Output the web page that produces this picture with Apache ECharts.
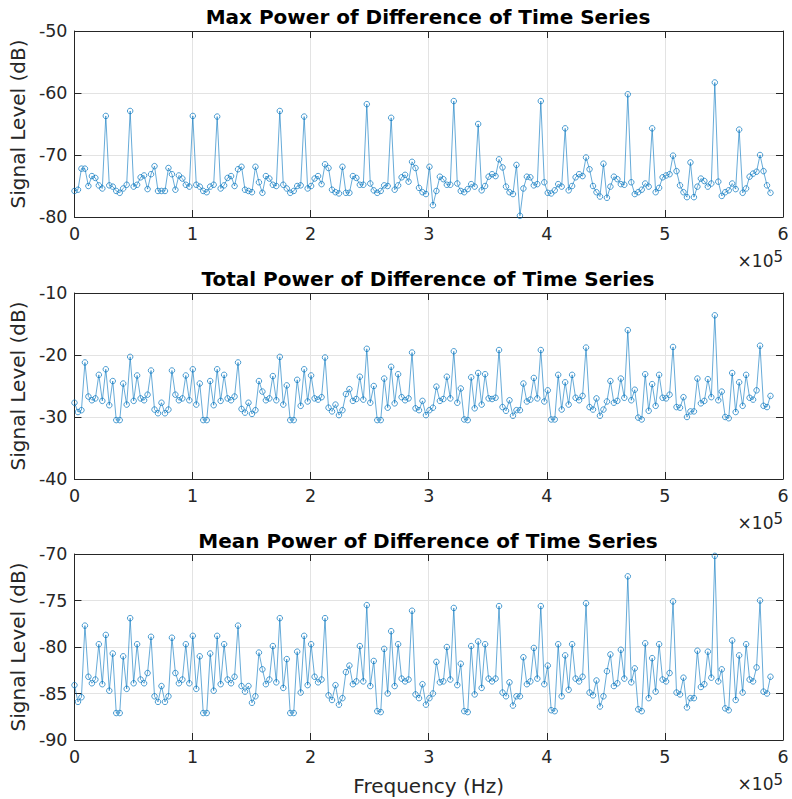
<!DOCTYPE html>
<html>
<head>
<meta charset="utf-8">
<script src="https://cdn.jsdelivr.net/npm/echarts@6/dist/echarts.min.js"></script>
<style>html,body{margin:0;padding:0;background:#fff;}#c{width:792px;height:799px;}</style>
</head>
<body>
<div id="c"></div>
<script>
// Frequency bin spacing (Hz), 201 bins from 0 to ~5.89e5
const freqStep = 2947;

const titles = [
  'Max Power of Difference of Time Series',
  'Total Power of Difference of Time Series',
  'Mean Power of Difference of Time Series'
];
const xTickLabels = ['0', '1', '2', '3', '4', '5', '6'];
const yTicksMax = [-80, -70, -60, -50];
const yTicksTotal = [-40, -30, -20, -10];
const yTicksMean = [-90, -85, -80, -75, -70];

const maxPower = [
-75.8,-75.6,-72.2,-72.2,-75.0,-73.4,-73.7,-74.9,-75.4,-63.7,
-74.9,-75.1,-75.8,-76.1,-75.4,-74.8,-62.9,-75.1,-74.8,-73.6,
-73.3,-75.5,-73.1,-71.8,-75.8,-75.8,-75.8,-72.1,-73.1,-75.6,
-73.3,-73.8,-74.8,-75.1,-63.7,-74.8,-75.1,-75.8,-76.0,-75.1,
-74.8,-63.8,-75.4,-74.9,-73.7,-73.4,-75.0,-72.3,-71.9,-75.6,
-75.8,-76.0,-71.9,-74.4,-76.1,-73.4,-73.8,-74.8,-75.0,-62.9,
-74.8,-75.4,-76.1,-75.8,-75.0,-74.9,-63.8,-75.4,-75.0,-73.8,
-73.4,-74.7,-71.5,-72.1,-75.6,-76.0,-76.2,-71.9,-76.1,-76.1,
-73.4,-73.7,-74.8,-74.8,-61.8,-74.6,-75.7,-76.1,-75.8,-74.9,
-75.0,-64.0,-75.6,-74.9,-73.6,-73.2,-74.3,-71.1,-72.1,-75.3,
-76.0,-76.3,-71.9,-78.1,-75.8,-73.5,-73.9,-74.8,-74.8,-61.3,
-74.6,-75.8,-76.0,-75.5,-74.7,-75.1,-65.0,-75.7,-75.0,-73.5,
-73.1,-73.4,-70.7,-72.0,-75.1,-76.0,-76.3,-71.6,-79.8,-75.4,
-73.5,-73.6,-74.9,-74.7,-61.3,-74.4,-76.1,-76.2,-75.7,-74.7,
-75.1,-65.7,-75.7,-75.0,-73.6,-73.1,-73.4,-70.4,-72.3,-75.0,
-76.0,-76.7,-71.4,-76.9,-75.1,-73.5,-73.9,-74.7,-74.8,-60.2,
-74.4,-76.3,-76.0,-75.6,-74.6,-75.1,-65.7,-76.0,-75.3,-73.6,
-73.3,-73.1,-70.1,-72.6,-74.9,-76.0,-76.8,-71.2,-76.8,-75.1,
-73.8,-74.2,-75.1,-74.6,-58.3,-74.3,-76.6,-76.0,-75.7,-74.6,
-75.5,-65.9,-76.1,-75.4,-73.5,-73.0,-72.7,-70.0,-72.6,-74.9,
-76.1
];

const totalPower = [
-27.7,-29.2,-28.9,-21.2,-26.7,-27.3,-27.0,-23.2,-27.4,-22.3,
-28.1,-24.2,-30.5,-30.5,-24.6,-28.0,-20.3,-27.4,-23.3,-27.0,
-27.3,-26.4,-22.5,-28.8,-29.4,-27.7,-29.4,-28.8,-22.5,-26.4,
-27.3,-27.0,-23.3,-27.3,-22.3,-28.0,-24.6,-30.5,-30.5,-24.2,
-28.1,-22.3,-27.4,-23.2,-27.0,-27.3,-26.7,-21.2,-28.7,-29.3,
-27.7,-29.5,-28.9,-24.2,-25.9,-27.3,-27.0,-23.4,-27.3,-20.3,
-28.0,-24.9,-30.5,-30.5,-24.0,-28.2,-22.3,-27.5,-23.3,-27.0,
-27.2,-26.8,-20.4,-28.5,-29.1,-28.0,-29.7,-28.9,-26.3,-25.5,
-27.4,-27.1,-23.5,-27.2,-19.0,-27.7,-25.0,-30.5,-30.5,-23.8,
-28.5,-21.9,-27.8,-23.1,-26.8,-27.3,-27.0,-19.6,-28.6,-28.9,
-27.4,-29.7,-28.9,-28.5,-25.1,-27.4,-27.1,-23.5,-27.0,-19.4,
-27.7,-25.4,-30.4,-30.5,-23.6,-28.6,-22.9,-28.0,-23.1,-27.0,
-27.1,-26.9,-19.2,-28.4,-29.0,-27.3,-29.8,-28.9,-28.9,-24.6,
-27.5,-27.2,-23.7,-27.0,-19.2,-27.5,-25.7,-30.4,-30.4,-23.2,
-28.8,-24.4,-28.0,-23.2,-26.9,-27.3,-26.6,-18.8,-28.4,-28.8,
-27.0,-29.8,-28.8,-27.5,-24.2,-27.7,-27.4,-23.8,-26.9,-16.0,
-27.3,-25.6,-30.1,-30.4,-23.1,-29.0,-24.7,-28.2,-23.2,-26.9,
-27.0,-26.4,-18.7,-28.4,-28.5,-26.8,-30.0,-29.1,-29.1,-23.8,
-27.8,-27.4,-23.9,-26.8,-13.6,-27.3,-25.9,-30.0,-30.2,-22.9,
-29.2,-24.4,-28.2,-23.2,-26.9,-27.2,-25.7,-18.5,-28.2,-28.4,
-26.6
];

const meanPower = [
-84.1,-85.9,-85.4,-77.7,-83.2,-83.9,-83.5,-79.7,-84.0,-78.7,
-84.7,-80.7,-87.1,-87.1,-81.0,-84.5,-76.9,-83.9,-79.7,-83.5,
-83.9,-82.8,-78.9,-85.3,-85.9,-84.2,-85.9,-85.3,-79.0,-82.8,
-83.9,-83.5,-79.7,-83.9,-78.8,-84.5,-81.0,-87.1,-87.1,-80.7,
-84.7,-78.8,-84.0,-79.7,-83.5,-83.9,-83.2,-77.7,-84.2,-84.8,
-84.2,-86.0,-85.3,-80.6,-82.4,-84.0,-83.5,-79.9,-83.8,-76.9,
-84.4,-81.3,-87.1,-87.1,-80.5,-84.9,-78.8,-84.1,-79.7,-83.2,
-83.8,-83.5,-76.9,-85.2,-85.7,-84.1,-86.2,-85.5,-82.7,-82.0,
-84.0,-83.7,-79.9,-83.7,-75.5,-84.2,-81.5,-86.9,-87.0,-80.2,
-85.0,-78.3,-84.2,-79.7,-83.4,-83.7,-83.5,-76.1,-85.1,-85.5,
-84.0,-86.2,-85.5,-85.0,-81.6,-83.8,-83.7,-80.0,-83.5,-75.8,
-84.1,-81.8,-86.9,-87.0,-79.9,-85.1,-79.4,-84.4,-79.7,-83.4,
-83.7,-83.4,-75.6,-84.9,-85.3,-83.8,-86.3,-85.3,-85.3,-81.1,
-84.0,-83.7,-80.1,-83.4,-75.6,-84.0,-82.0,-86.8,-86.9,-79.7,
-85.3,-80.9,-84.6,-79.7,-83.4,-83.7,-83.2,-75.3,-84.9,-85.2,
-83.6,-86.4,-85.3,-82.6,-80.8,-84.2,-83.9,-80.3,-83.4,-72.4,
-83.8,-82.3,-86.7,-86.9,-79.6,-85.5,-81.2,-84.8,-79.7,-83.5,
-83.7,-82.8,-75.1,-84.9,-85.1,-83.3,-86.5,-85.5,-85.5,-80.4,
-84.3,-84.0,-80.5,-83.3,-70.2,-83.7,-82.4,-86.6,-86.8,-79.3,
-85.7,-80.9,-84.9,-79.7,-83.5,-83.7,-82.2,-75.0,-84.8,-85.0,
-83.2
];

const seriesValues = [maxPower, totalPower, meanPower];
const yTickSets = [yTicksMax, yTicksTotal, yTicksMean];

const AX = '#262626';
const GRID = '#e3e3e3';
const LINE = '#0072BD';
const FONT = 'DejaVu Sans';
const gridPos = [
  { left: 73, top: 31, width: 710, height: 186 },
  { left: 73, top: 293, width: 710, height: 186 },
  { left: 73, top: 554, width: 710, height: 186 }
];
const titleTops = [7, 269, 531];

const xAxes = [], yAxes = [], series = [], titleOpts = [], graphics = [];
for (let g = 0; g < 3; g++) {
  const ticks = yTickSets[g];
  const yMin = ticks[0], yMax = ticks[ticks.length - 1], yInt = ticks[1] - ticks[0];
  xAxes.push({
    type: 'value', gridIndex: g, position: 'bottom', min: 0, max: 600000, interval: 100000,
    axisLine: { show: true, onZero: false, lineStyle: { color: AX, width: 1 } },
    axisTick: { show: true, inside: true, length: 7, lineStyle: { color: AX, width: 1 } },
    axisLabel: { show: true, margin: 8, color: AX, fontSize: 17.5, fontFamily: FONT,
      formatter: v => xTickLabels[Math.round(v / 100000)] },
    splitLine: { show: true, lineStyle: { color: GRID, width: 1 } },
    name: g === 2 ? 'Frequency (Hz)' : '', nameLocation: 'middle', nameGap: 36,
    nameTextStyle: { color: AX, fontSize: 20, fontFamily: FONT }
  });
  xAxes.push({
    type: 'value', gridIndex: g, position: 'top', min: 0, max: 600000, interval: 100000,
    axisLine: { show: true, onZero: false, lineStyle: { color: AX, width: 1 } },
    axisTick: { show: true, inside: true, length: 7, lineStyle: { color: AX, width: 1 } },
    axisLabel: { show: false }, splitLine: { show: false }
  });
  yAxes.push({
    type: 'value', gridIndex: g, position: 'left', min: yMin, max: yMax, interval: yInt,
    axisLine: { show: true, onZero: false, lineStyle: { color: AX, width: 1 } },
    axisTick: { show: true, inside: true, length: 7, lineStyle: { color: AX, width: 1 } },
    axisLabel: { show: true, margin: 7, color: AX, fontSize: 17.5, fontFamily: FONT },
    splitLine: { show: true, lineStyle: { color: GRID, width: 1 } },
    name: 'Signal Level (dB)', nameLocation: 'middle', nameGap: 43, nameRotate: 90,
    nameTextStyle: { color: AX, fontSize: 20, fontFamily: FONT }
  });
  yAxes.push({
    type: 'value', gridIndex: g, position: 'right', min: yMin, max: yMax, interval: yInt,
    axisLine: { show: true, onZero: false, lineStyle: { color: AX, width: 1 } },
    axisTick: { show: true, inside: true, length: 7, lineStyle: { color: AX, width: 1 } },
    axisLabel: { show: false }, splitLine: { show: false }
  });
  const vals = seriesValues[g];
  series.push({
    type: 'line', xAxisIndex: g * 2, yAxisIndex: g * 2,
    data: vals.map((v, i) => [i * freqStep, v]),
    symbol: 'circle', symbolSize: 5.5, showSymbol: true,
    lineStyle: { color: LINE, width: 0.6 },
    itemStyle: { color: 'rgba(0,0,0,0)', borderColor: LINE, borderWidth: 0.7 },
    animation: false, silent: true, clip: false
  });
  titleOpts.push({
    text: titles[g], left: 428, top: titleTops[g], textAlign: 'center', padding: 0,
    textStyle: { color: '#000', fontSize: 20, fontWeight: 'bold', fontFamily: FONT }
  });
  const gp = gridPos[g];
  graphics.push({
    type: 'text', right: 9, top: gp.top + gp.height + 32,
    style: {
      text: '×10{s|5}', fill: AX, font: '17px "DejaVu Sans"',
      rich: { s: { fontSize: 15, fontFamily: FONT, fill: AX, verticalAlign: 'top', padding: [0, 0, 8, 0] } }
    }
  });
}

const chart = echarts.init(document.getElementById('c'), null, { renderer: 'svg' });
chart.setOption({
  backgroundColor: '#fff',
  animation: false,
  title: titleOpts,
  grid: gridPos,
  xAxis: xAxes,
  yAxis: yAxes,
  series: series,
  graphic: graphics
});
</script>
</body>
</html>
